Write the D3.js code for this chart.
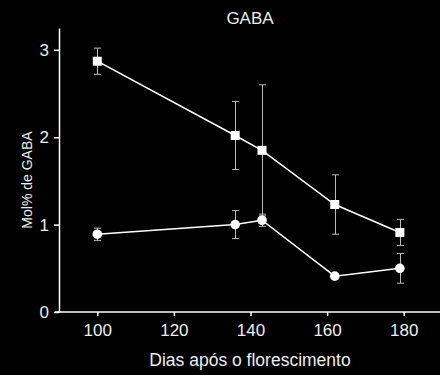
<!DOCTYPE html>
<html>
<head>
<meta charset="utf-8">
<script src="https://cdn.jsdelivr.net/npm/d3@7"></script>
<style>
  html, body { margin: 0; padding: 0; background: #000; }
  svg text { font-family: 'Liberation Sans', Arial, sans-serif; fill: #eee; }
</style>
</head>
<body>
<div id="chart"></div>
<script>
// days after flowering
const squareDays = [100, 136, 143, 162, 179];
const squareValues = [2.87, 2.02, 1.85, 1.23, 0.91];
const squareErrors = [0.15, 0.39, 0.75, 0.34, 0.15];

const circleDays = [100, 136, 143, 162, 179];
const circleValues = [0.89, 1.0, 1.05, 0.41, 0.5];
const circleErrors = [0.07, 0.16, 0.07, 0.03, 0.17];

const xTicks = [100, 120, 140, 160, 180];
const yTicks = [0, 1, 2, 3];

const margin = { top: 28, right: 0, bottom: 63, left: 59 },
  width = 440 - margin.left - margin.right,
  height = 375 - margin.top - margin.bottom;

const svg = d3
  .select('#chart')
  .append('svg')
  .attr('width', 440)
  .attr('height', 375)
  .append('g')
  .attr('transform', 'translate(' + margin.left + ',' + margin.top + ')');

const x = d3.scaleLinear().domain([90, 190]).range([0, 383]);
const y = d3.scaleLinear().domain([0, 3.25]).range([height, 0]);

const toRows = (days, vals, errs) =>
  days.map((d, i) => ({ day: d, value: vals[i], err: errs[i] }));

const squares = toRows(squareDays, squareValues, squareErrors);
const circles = toRows(circleDays, circleValues, circleErrors);

// Error bars
function drawErrors(rows) {
  const g = svg.append('g').attr('stroke', '#bbb').attr('stroke-width', 1);
  rows.forEach((d) => {
    const cx = Math.round(x(d.day)) + 0.5;
    const y1 = y(d.value + d.err);
    const y2 = y(d.value - d.err);
    g.append('line').attr('x1', cx).attr('x2', cx).attr('y1', y1).attr('y2', y2);
    g.append('line').attr('x1', cx - 3.5).attr('x2', cx + 3.5).attr('y1', y1).attr('y2', y1);
    g.append('line').attr('x1', cx - 3.5).attr('x2', cx + 3.5).attr('y1', y2).attr('y2', y2);
  });
}
drawErrors(squares);
drawErrors(circles);

// Lines
const line = d3
  .line()
  .x((d) => x(d.day))
  .y((d) => y(d.value));

[squares, circles].forEach((rows) => {
  svg
    .append('path')
    .datum(rows)
    .attr('fill', 'none')
    .attr('stroke', '#fff')
    .attr('stroke-width', 1.5)
    .attr('d', line);
});

// Markers
svg
  .selectAll('.sq')
  .data(squares)
  .enter()
  .append('rect')
  .attr('x', (d) => x(d.day) - 4.5)
  .attr('y', (d) => y(d.value) - 4.5)
  .attr('width', 9)
  .attr('height', 9)
  .attr('fill', '#fff');

svg
  .selectAll('.ci')
  .data(circles)
  .enter()
  .append('circle')
  .attr('cx', (d) => x(d.day))
  .attr('cy', (d) => y(d.value))
  .attr('r', 4.8)
  .attr('fill', '#fff');

// Axes
const xAxis = svg
  .append('g')
  .attr('transform', `translate(0,${height})`)
  .call(d3.axisBottom(x).tickValues(xTicks).tickSize(4).tickSizeOuter(0).tickPadding(8));

const yAxis = svg
  .append('g')
  .call(
    d3.axisLeft(y).tickValues(yTicks).tickFormat(d3.format('d'))
      .tickSize(5).tickSizeOuter(0).tickPadding(5)
  );

[xAxis, yAxis].forEach((a) => {
  a.select('.domain').attr('stroke', '#fff').attr('stroke-width', 1.5);
  a.selectAll('.tick line').attr('stroke', '#fff').attr('stroke-width', 1.5);
  a.selectAll('.tick text').style('font-size', '17px').attr('fill', '#eee');
});
xAxis.select('.domain').attr('d', `M-4,0H${width}`);

// Labels
svg
  .append('text')
  .attr('x', 191)
  .attr('y', height + 54)
  .attr('text-anchor', 'middle')
  .style('font-size', '17.5px')
  .text('Dias após o florescimento');

svg
  .append('text')
  .attr('transform', 'rotate(-90)')
  .attr('x', -152)
  .attr('y', -27.5)
  .attr('text-anchor', 'middle')
  .style('font-size', '14px')
  .text('Mol% de GABA');

svg
  .append('text')
  .attr('x', 191)
  .attr('y', -4)
  .attr('text-anchor', 'middle')
  .style('font-size', '17px')
  .text('GABA');
</script>
</body>
</html>
